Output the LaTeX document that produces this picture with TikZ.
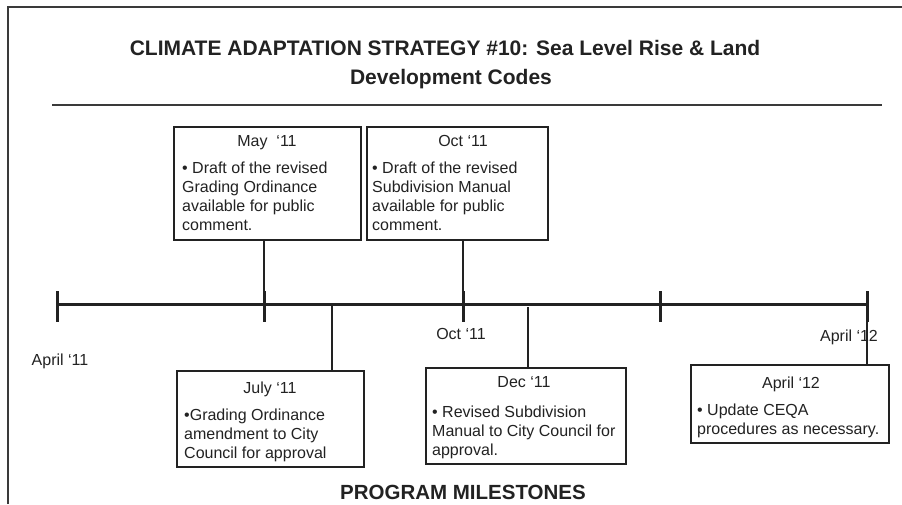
\documentclass[tikz,border=0pt]{standalone}
\usepackage{fontspec}
\setmainfont{Liberation Sans}
\definecolor{ink}{HTML}{222222}
\definecolor{frame}{HTML}{3A3A3A}
\begin{document}
\begin{tikzpicture}[x=1pt,y=-1pt,
  box/.style={draw=ink, line width=1.2pt, inner sep=0pt, fill=white},
  head/.style={font=\fontsize{16}{19}\selectfont, text=ink, inner sep=0pt, anchor=base},
  body/.style={font=\fontsize{16}{19}\selectfont, text=ink, inner sep=0pt, anchor=base west},
  lbl/.style={font=\fontsize{16}{19}\selectfont, text=ink, inner sep=0pt, anchor=base},
  ttl/.style={font=\bfseries\fontsize{21}{25}\selectfont, text=ink, inner sep=0pt, anchor=base},
  conn/.style={draw=ink, line width=1.2pt},
  axis/.style={draw=ink, line width=3pt},
  tick/.style={draw=ink, line width=3pt}]
\useasboundingbox (0,0) rectangle (902,504);
% frame
\coordinate (fa) at (8,504);
\coordinate (fb) at (8,7);
\coordinate (fc) at (902,7);
\draw[frame, line width=1.6pt] (fa) -- (fb) -- (fc);
% title
\node[ttl] (t1) at (445,55) {CLIMATE ADAPTATION STRATEGY \#10: Sea Level Rise \& Land};
\node[ttl] (t2) at (451,84) {Development Codes};
\coordinate (ra) at (52,105);
\coordinate (rb) at (882,105);
\draw[frame, line width=1.4pt] (ra) -- (rb);
% timeline
\coordinate (k1) at (57,304);
\coordinate (k2) at (264,304);
\coordinate (k3) at (463,304);
\coordinate (k4) at (660,304);
\coordinate (k5) at (867,304);
\draw[axis] (k1) -- (k5);
\foreach \k in {k1,k2,k3,k4,k5}{
  \draw[tick] ([yshift=13pt]\k) -- ([yshift=-18pt]\k);
}
\coordinate (j) at (332,304);
\coordinate (d) at (528,307);
% boxes
\node[box, minimum width=187pt, minimum height=113pt] (may) at (267.5,183.5) {};
\node[box, minimum width=181pt, minimum height=113pt] (oct) at (457.5,183.5) {};
\node[box, minimum width=187pt, minimum height=96pt] (jul) at (270.5,419) {};
\node[box, minimum width=200pt, minimum height=96pt] (dec) at (526,416) {};
\node[box, minimum width=198pt, minimum height=78pt] (apr) at (790,404) {};
% connectors
\draw[conn] (k2 |- may.south) -- (k2);
\draw[conn] (k3 |- oct.south) -- (k3);
\draw[conn] (j) -- (j |- jul.north);
\draw[conn] (d) -- (d |- dec.north);
\draw[conn] (k5) -- (k5 |- apr.north);
% box texts
\node[head] (mayh) at (267,146.5) {May \ ‘11};
\node[body] (mayb) at (182,173.5) {\begin{tabular}[t]{@{}l@{}}• Draft of the revised\\Grading Ordinance\\available for public\\comment.\end{tabular}};
\node[head] (octh) at (463,146.5) {Oct ‘11};
\node[body] (octb) at (372,173.5) {\begin{tabular}[t]{@{}l@{}}• Draft of the revised\\Subdivision Manual\\available for public\\comment.\end{tabular}};
\node[head] (julh) at (270,393.5) {July ‘11};
\node[body] (julb) at (184,420.5) {\begin{tabular}[t]{@{}l@{}}•Grading Ordinance\\amendment to City\\Council for approval\end{tabular}};
\node[head] (dech) at (524,387.5) {Dec ‘11};
\node[body] (decb) at (432,417.5) {\begin{tabular}[t]{@{}l@{}}• Revised Subdivision\\Manual to City Council for\\approval.\end{tabular}};
\node[head] (aprh) at (791,388.5) {April ‘12};
\node[body] (aprb) at (697,415.5) {\begin{tabular}[t]{@{}l@{}}• Update CEQA\\procedures as necessary.\end{tabular}};
% axis labels
\node[lbl] (l1) at (60,365.5) {April ‘11};
\node[lbl] (l2) at (461,339) {Oct ‘11};
\node[lbl] (l3) at (849,341) {April ‘12};
% footer
\node[ttl, font=\bfseries\fontsize{20.5}{25}\selectfont] (ft) at (463,499) {PROGRAM MILESTONES};
\end{tikzpicture}
\end{document}
